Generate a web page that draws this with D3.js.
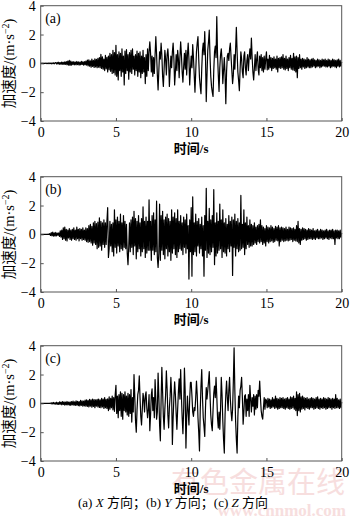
<!DOCTYPE html>
<html><head><meta charset="utf-8">
<script src="https://cdn.jsdelivr.net/npm/d3@7"></script>
<style>body{margin:0;background:#fff}svg text{font-family:"Liberation Serif","Noto Sans CJK SC",serif}</style>
</head><body><svg id="c" width="350" height="520"></svg>
<script>
const panelLabels = ["(a)", "(b)", "(c)"];
const xTicks = [0, 5, 10, 15, 20];
const yTicks = [-4, -2, 0, 2, 4];
const tStart = 0, tEnd = 20;

const accX = [
0,0.01,-0.01,0.02,-0.02,0.01,-0.01,0.02,-0.02,0.01,-0.02,0.03,-0.02,0.02,-0.03,0.03,-0.02,0.04,-0.03,0.03,
0.05,-0.04,0.06,-0.05,0.08,-0.06,0.05,-0.07,0.09,-0.06,0.07,-0.08,0.1,-0.07,0.12,-0.1,0.15,-0.12,0.2,-0.14,
0.16,-0.12,0.1,-0.09,0.12,-0.1,0.08,-0.11,0.13,-0.09,0.1,-0.12,0.09,-0.1,0.14,-0.08,0.11,-0.13,0.12,-0.1,
0.15,-0.12,0.22,-0.18,0.25,-0.2,0.18,-0.26,0.3,-0.22,0.2,-0.28,0.32,-0.25,0.28,-0.3,0.35,-0.27,0.4,-0.3,
0.62,-0.35,0.45,-0.4,0.3,-0.5,0.55,-0.38,0.42,-0.6,0.5,-0.45,0.7,-0.55,0.6,-0.7,0.9,-0.65,0.75,-0.8,
1.25,-0.9,0.6,-1.15,0.8,-0.5,0.7,-0.9,1.0,-0.6,0.5,-1.5,0.85,-0.7,0.95,-0.5,0.6,-1.1,0.75,-0.6,
0.9,-0.7,1.0,-0.4,0.5,-0.8,0.6,-0.5,0.85,-0.9,0.7,-0.6,0.8,-1.0,0.5,-0.7,0.9,-0.6,0.4,-1.4,
0.6,-0.9,1.0,-0.5,0.8,1.5,0.7,-0.6,0.5,-0.9,0.4,-0.7,0.6,1.85,0.6,-0.8,-1.85,-0.5,0.8,0.3,
1.4,0.6,-0.9,-1.6,-0.4,0.9,0.3,-0.8,0.6,1.0,0.2,-1.6,-0.5,0.5,-0.3,0.8,1.4,0.3,-1.5,-0.6,
0.6,-0.5,0.9,0.3,-1.0,0.4,1.5,0.6,-0.6,-1.3,-0.2,0.7,-0.4,0.9,-0.8,0.6,1.4,0.3,-1.5,-0.4,
0.5,-0.3,1.3,0.4,-0.8,-2.0,-0.6,0.8,1.4,1.85,0.3,-1.0,-1.6,-2.1,-0.4,0.9,1.4,0.6,2.2,0.4,
-2.65,-0.8,0.9,1.5,2.3,0.5,-0.9,-1.6,-2.0,-2.3,-0.5,0.8,1.2,0.4,3.25,0.6,-0.8,-1.95,-0.3,0.6,
1.0,0.2,-1.4,-0.5,0.4,-0.8,-2.8,-0.6,0.5,0.7,0.2,1.0,1.4,0.4,-0.5,-1.4,-0.8,0.6,-0.4,0.9,
2.5,0.8,-0.6,-1.2,-1.9,-0.4,0.8,0.3,-0.6,-1.0,0.5,0.8,-0.3,-0.8,0.2,0.6,-0.5,0.4,1.0,0.3,
1.75,0.4,-0.6,-1.15,-0.3,0.6,-0.5,0.3,0.8,-0.4,-0.8,0.5,-0.3,0.6,-0.5,0.4,-0.6,0.5,-0.4,0.3,
0.8,-0.45,0.3,-0.4,0.55,-0.3,0.4,-0.5,0.35,-0.35,0.45,-0.3,0.3,-0.4,0.5,-0.6,0.35,-0.3,0.4,-0.35,
0.45,-0.3,0.6,-0.4,0.35,-0.45,0.5,-0.35,0.3,-0.5,0.4,-0.3,0.55,-0.4,0.35,-0.45,0.7,-0.5,0.45,-0.6,
0.5,-1.0,0.4,-0.35,0.6,-0.3,0.3,-0.4,0.35,-0.25,0.3,-0.35,0.25,-0.3,0.4,-0.25,0.3,-0.3,0.25,-0.3,
0.3,-0.25,0.35,-0.2,0.25,-0.3,0.2,-0.25,0.3,-0.2,0.25,-0.3,0.2,-0.25,0.3,-0.2,0.25,-0.2,0.3,-0.25,
0.2,-0.25,0.3,-0.2,0.25,-0.3,0.2,-0.25,0.3,-0.2,0.25,-0.25,0.2,-0.3,0.25,-0.2,0.3,-0.25,0.2,-0.2,
0.1];

const accY = [
0,0,0,0,0,0,0,0,0,0,0.01,-0.01,0.05,-0.08,0.12,-0.1,0.15,-0.12,0.1,-0.13,
0.14,-0.1,0.08,-0.06,0.1,-0.15,0.25,-0.2,0.3,-0.35,0.45,-0.3,0.5,-0.4,0.35,-0.45,0.3,-0.25,0.4,-0.35,
0.3,-0.4,0.35,-0.3,0.45,-0.35,0.3,-0.4,0.5,-0.3,0.35,-0.45,0.4,-0.3,0.35,-0.4,0.45,-0.35,0.3,-0.4,
0.45,-0.5,0.4,-0.55,0.6,-0.5,0.7,-0.6,0.55,-0.75,0.8,-0.6,0.9,-0.7,0.75,-1.0,0.85,-0.9,1.15,-0.8,
0.9,-1.1,0.8,-0.7,1.0,-0.9,0.8,-0.7,0.9,1.85,-1.6,-1.0,0.9,-0.8,0.7,-1.2,0.8,-1.5,1.7,-0.9,
1.0,-1.3,1.2,-0.8,0.9,-1.2,1.4,-1.0,0.8,-1.1,1.3,-0.9,0.9,-1.0,0.7,-1.3,-2.1,-0.9,0.8,-1.2,
1.0,-0.9,1.2,-1.4,1.6,-0.8,1.1,-1.7,0.9,-1.2,1.3,-1.0,0.8,-1.5,1.1,-1.2,1.9,-1.0,0.9,-1.6,
1.2,-1.3,0.9,-1.1,2.4,-1.1,0.9,-1.8,1.3,-1.1,1.5,-1.4,1.0,-1.2,2.3,-1.6,-2.3,-1.3,2.1,-1.8,
1.3,-1.1,1.6,-1.4,1.0,-1.7,1.2,-1.0,1.4,-1.5,1.1,-1.2,0.9,-1.8,1.7,-1.3,1.2,-1.0,1.5,-1.4,
1.1,-1.6,1.7,-1.2,0.9,-1.0,1.3,-1.1,0.8,-1.4,1.2,-0.9,1.0,-1.3,1.4,-1.0,0.6,-3.1,1.0,-1.2,
1.85,-2.9,2.6,-1.4,0.8,-1.2,1.4,-1.5,0.9,-0.8,1.1,-1.3,0.7,-1.0,1.2,-1.5,0.6,-2.9,1.3,-1.1,
3.2,-1.6,0.9,-1.3,1.8,-1.4,1.0,-1.2,1.3,-0.9,3.1,-2.1,0.8,-1.5,1.5,-1.3,0.9,-1.1,2.1,-1.0,
1.0,-1.6,1.7,-1.2,0.8,-1.3,1.1,-1.5,0.7,-1.0,1.3,-1.2,0.9,-0.8,1.2,-2.85,1.0,-0.9,1.4,-1.5,
0.9,-1.0,1.1,-1.2,0.8,-1.1,2.7,-1.0,0.7,-0.9,1.7,-1.4,0.8,-1.0,1.2,-0.7,0.6,-0.9,1.0,-0.8,
0.7,-0.8,0.6,-0.7,0.8,-0.6,0.5,-0.7,0.6,-0.5,0.7,-0.6,1.0,-0.5,0.6,-0.7,0.5,-0.6,0.4,-0.8,
0.6,-0.5,0.5,-0.6,0.45,-0.5,0.6,-0.45,0.5,-0.55,0.4,-0.5,0.55,-0.4,0.5,-0.45,0.6,-0.8,0.45,-0.5,
0.5,-0.4,0.45,-0.5,0.4,-0.45,0.5,-0.4,0.35,-0.45,0.5,-0.4,0.45,-0.35,0.4,-0.5,0.45,-0.4,0.35,-0.45,
0.6,-0.5,0.9,-0.6,0.4,-0.7,0.35,-0.4,0.45,-0.35,0.4,-0.3,0.35,-0.4,0.3,-0.35,0.4,-0.3,0.35,-0.3,
0.3,-0.35,0.4,-0.3,0.25,-0.35,0.3,-0.25,0.35,-0.3,0.25,-0.3,0.35,-0.25,0.3,-0.35,0.25,-0.3,0.3,-0.25,
0.35,-0.3,0.25,-0.35,0.3,-0.25,0.3,-0.3,0.35,-0.3,0.25,-0.7,0.3,-0.25,0.3,-0.3,0.25,-0.3,0.3,-0.2,
0.1];

const accZ = [
0,0,0,0,0,0,0,0,0,0,0,0,0,0.02,-0.03,0.05,-0.04,0.06,-0.05,0.04,
-0.06,0.08,-0.07,0.05,-0.08,0.1,-0.06,0.09,-0.1,0.12,-0.08,0.1,-0.12,0.09,-0.1,0.13,-0.11,0.08,-0.12,0.1,
-0.14,0.12,-0.1,0.15,-0.13,0.1,-0.15,0.18,-0.12,0.14,-0.16,0.12,-0.18,0.2,-0.15,0.17,-0.2,0.15,-0.18,0.22,
-0.2,0.25,-0.22,0.2,-0.25,0.28,-0.2,0.24,-0.27,0.3,-0.22,0.26,-0.3,0.25,-0.2,0.28,-0.25,0.3,-0.28,0.25,
-0.3,0.35,-0.25,0.3,-0.35,0.4,-0.3,0.28,-0.35,0.32,-0.5,0.45,-0.4,0.35,-0.3,0.5,-0.45,0.4,-0.55,0.6,
1.25,-0.7,0.5,-1.0,0.6,-0.5,0.8,-0.9,0.7,-1.1,0.6,-0.5,0.8,-0.6,0.5,-0.8,0.7,-0.9,0.6,-0.7,
0.95,-1.3,0.4,-0.6,2.0,0.5,-1.2,-2.0,-0.5,0.6,0.9,1.9,0.4,-0.9,-1.5,-0.4,0.7,0.3,-0.6,0.5,
0.8,-0.3,-1.0,-0.4,0.6,-1.9,-0.8,0.6,1.0,-0.5,0.4,-1.0,1.65,0.3,-1.1,-0.6,2.1,0.5,-1.5,-2.6,
0.2,2.5,0.8,-0.9,-1.8,-0.4,0.6,2.25,1.0,-0.8,-1.7,-0.3,0.5,1.8,0.6,-2.85,-1.0,0.4,1.5,0.6,
-0.7,-1.8,-0.4,0.8,1.7,0.3,2.35,0.5,-1.0,-2.1,-0.4,2.45,0.8,-3.1,-0.9,0.5,-0.6,-1.5,0.3,1.45,
1.45,0.5,-0.6,-0.9,-0.3,-0.5,0.4,1.55,0.6,-1.0,-2.0,-3.3,-0.5,1.2,2.35,0.4,-1.0,-1.6,-2.3,-0.3,
1.1,0.3,0.9,1.5,2.2,0.6,-0.8,-1.5,-1.9,-0.5,0.7,1.2,0.4,1.8,0.5,-1.0,-1.7,-0.6,-1.8,-0.4,
1.8,0.6,-1.2,-2.5,-3.45,-0.8,0.6,1.55,0.4,-0.5,0.9,1.8,0.3,-0.6,-1.2,-0.4,1.5,3.85,0.9,-1.2,
-2.5,-3.45,-1.0,0.5,-0.3,0.9,1.2,1.8,0.4,-1.45,-0.6,0.5,0.6,-0.9,0.3,-0.5,0.6,-0.9,1.25,0.3,
-0.6,0.4,-0.2,0.6,-0.8,0.5,-0.4,0.6,-0.3,0.9,0.5,1.55,0.4,-0.5,-0.9,-1.1,-0.3,0.4,-0.4,0.3,
0.2,-0.3,0.35,-0.25,0.3,-0.35,0.25,-0.3,0.4,-0.25,0.3,-0.35,0.5,-0.3,0.35,-0.4,0.3,-0.35,0.4,-0.3,
0.35,-0.3,0.4,-0.35,0.3,-0.4,0.35,-0.3,0.4,-0.35,0.3,-0.4,0.45,-0.35,0.4,-0.3,0.5,-0.4,0.35,-0.5,
0.8,-0.85,0.6,-0.5,0.7,-0.6,0.45,-0.4,0.5,-0.35,0.4,-0.45,0.35,-0.3,0.4,-0.35,0.3,-0.4,0.35,-0.3,
0.4,-0.3,0.35,-0.4,0.3,-0.35,0.4,-0.3,0.45,-0.35,0.3,-0.4,0.35,-0.3,0.3,-0.35,0.4,-0.3,0.35,-0.4,
0.3,-0.35,0.4,-0.3,0.35,-0.3,0.3,-0.4,0.35,-0.3,0.3,-0.35,0.6,-0.3,0.35,-0.3,0.25,-0.35,0.3,-0.3,
0.1];

const yLabelMain = "加速度/(m·s";
const yLabelSup = "−2";
const xLabel = "时间/s";

const svg = d3.select("#c");
const L = 40.7, R = 341.7, H = 115.3;
const tops = [5.7, 176.7, 345.7];
const series = [accX, accY, accZ];

const x = d3.scaleLinear().domain([tStart, tEnd]).range([L, R]);

// watermark (behind everything)
svg.append("text").attr("x", 345).attr("y", 493).attr("text-anchor", "end")
  .attr("font-size", 29).attr("fill", "#f7dede").style("font-family", "Noto Sans CJK SC").text("有色金属在线");
svg.append("text").attr("x", 346).attr("y", 516).attr("text-anchor", "end")
  .attr("font-size", 17).attr("font-weight", "bold").attr("fill", "#f7dede").text("www.cnnmol.com");

series.forEach((vals, k) => {
  const top = tops[k], bot = top + H;
  const y = d3.scaleLinear().domain([-4, 4]).range([bot, top]);
  const g = svg.append("g");
  const dt = (tEnd - tStart) / (vals.length - 1);
  const line = d3.line().x((d, i) => x(tStart + i * dt)).y(d => y(d));
  g.append("path").datum(vals).attr("d", line)
    .attr("fill", "none").attr("stroke", "#000").attr("stroke-width", 1.2)
    .attr("stroke-linejoin", "round");
  g.append("rect").attr("x", L).attr("y", top).attr("width", R - L).attr("height", H)
    .attr("fill", "none").attr("stroke", "#555").attr("stroke-width", 1);
  const xa = g.append("g").attr("transform", `translate(0,${bot})`)
    .call(d3.axisBottom(x).tickValues(xTicks).tickSizeInner(-3).tickSizeOuter(0).tickPadding(6).tickFormat(d3.format("d")));
  xa.select(".domain").remove();
  xa.selectAll("line").attr("stroke", "#555");
  xa.selectAll("text").attr("font-size", 14).attr("fill", "#000")
    .style("font-family", "Liberation Serif, serif");
  const ya = g.append("g").attr("transform", `translate(${L},0)`)
    .call(d3.axisLeft(y).tickValues(yTicks).tickSizeInner(-3).tickSizeOuter(0).tickPadding(5)
      .tickFormat(d => d < 0 ? "−" + Math.abs(d) : String(d)));
  ya.select(".domain").remove();
  ya.selectAll("line").attr("stroke", "#555");
  ya.selectAll("text").attr("font-size", 14).attr("fill", "#000")
    .style("font-family", "Liberation Serif, serif");
  g.append("text").attr("x", L + 4.5).attr("y", top + 17).attr("font-size", 14)
    .text(panelLabels[k]);
  g.append("text").attr("x", x(10)).attr("y", bot + 32).attr("text-anchor", "middle")
    .attr("font-size", 13).attr("font-weight", "bold").text(xLabel);
  const yl = g.append("text").attr("transform", `translate(14,${(top + bot) / 2}) rotate(-90)`)
    .attr("text-anchor", "middle").attr("font-size", 14.5);
  yl.append("tspan").text(yLabelMain);
  yl.append("tspan").attr("font-size", 10).attr("dy", -5.5).text(yLabelSup);
  yl.append("tspan").attr("dy", 5.5).text(")");
});

const cap = svg.append("text").attr("x", 173).attr("y", 507).attr("text-anchor", "middle").attr("font-size", 13);
cap.append("tspan").text("(a) ");
cap.append("tspan").attr("font-style", "italic").text("X");
cap.append("tspan").text(" 方向；(b) ");
cap.append("tspan").attr("font-style", "italic").text("Y");
cap.append("tspan").text(" 方向；(c) ");
cap.append("tspan").attr("font-style", "italic").text("Z");
cap.append("tspan").text(" 方向");
</script>
</body></html>
